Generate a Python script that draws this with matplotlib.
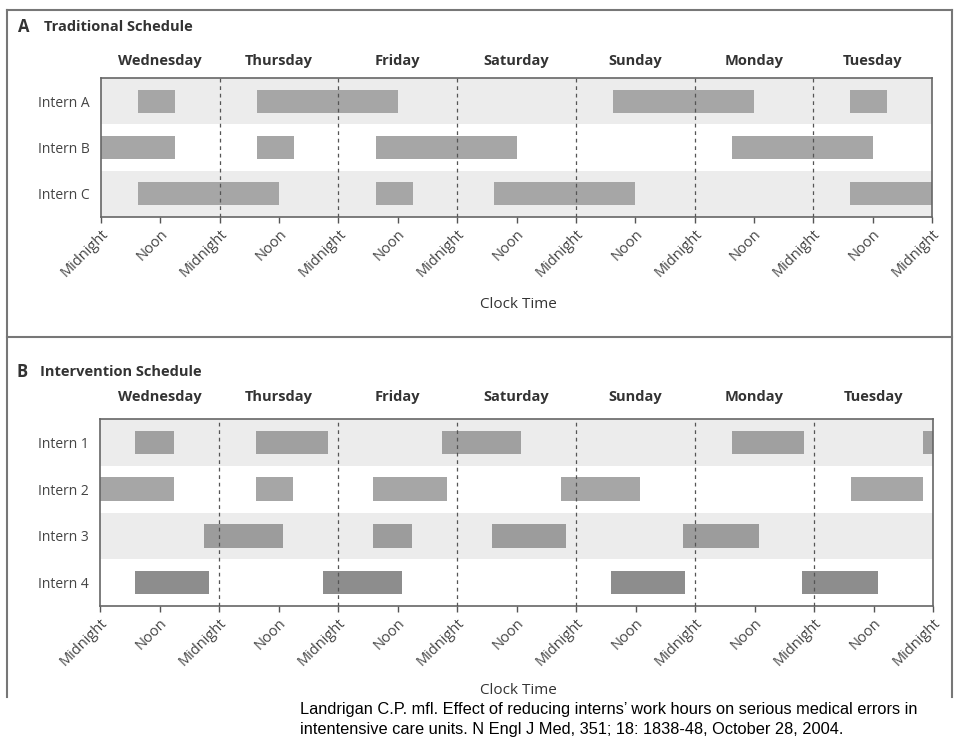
import matplotlib
matplotlib.use("Agg")
import matplotlib.pyplot as plt
from matplotlib.lines import Line2D

plt.rcParams['font.family'] = ['Open Sans', 'DejaVu Sans']

W, H = 959, 740

days = ["Wednesday", "Thursday", "Friday", "Saturday", "Sunday", "Monday", "Tuesday"]
tick_hours = list(range(0, 169, 12))
tick_labels = ["Midnight" if h % 24 == 0 else "Noon" for h in tick_hours]

# shifts as (start hour, end hour) counted from Wednesday midnight
trad_names = ["Intern A", "Intern B", "Intern C"]
trad_shifts = [
    [(7.5, 15), (31.5, 60), (103.5, 132), (151.5, 159)],
    [(0, 15), (31.5, 39), (55.5, 84), (127.5, 156)],
    [(7.5, 36), (55.5, 63), (79.5, 108), (151.5, 168)],
]

int_names = ["Intern 1", "Intern 2", "Intern 3", "Intern 4"]
int_shifts = [
    [(7, 15), (31.5, 46), (69, 85), (127.5, 142), (166, 168)],
    [(0, 15), (31.5, 39), (55, 70), (93, 109), (151.5, 166)],
    [(21, 37), (55, 63), (79, 94), (117.5, 133)],
    [(7, 22), (45, 61), (103, 118), (141.5, 157)],
]


def px_axes(left, top, right, bottom):
    return fig.add_axes([left / W, 1 - bottom / H, (right - left) / W, (bottom - top) / H])


def draw_panel(ax, names, shifts, colors):
    n = len(names)
    ax.set_xlim(0, 168)
    ax.set_ylim(n - 0.5, -0.5)
    for i in range(n):
        if i % 2 == 0:
            ax.axhspan(i - 0.5, i + 0.5, color="#ececec", zorder=0, lw=0)
        starts = [s for s, e in shifts[i]]
        widths = [e - s for s, e in shifts[i]]
        ax.barh([i] * len(starts), widths, left=starts, height=0.5,
                color=colors[i], zorder=2, lw=0)
    for h in range(24, 168, 24):
        ax.axvline(h, color="#555555", lw=0.9, ls=(0, (3, 3)), zorder=3)
    ax.set_yticks(range(n))
    ax.set_yticklabels(names, fontsize=10, color="#444444")
    ax.tick_params(axis="y", length=0, pad=8)
    ax.set_xticks(tick_hours)
    ax.set_xticklabels(tick_labels, rotation=45, ha="right", va="top",
                       rotation_mode="anchor", fontsize=10.5, color="#444444")
    ax.tick_params(axis="x", length=4, width=1, color="#555555", pad=3)
    for sp in ax.spines.values():
        sp.set_color("#666666")
        sp.set_linewidth(1.2)
    for d, name in enumerate(days):
        ax.text(d * 24 + 12, 1.12, name, transform=ax.get_xaxis_transform(),
                ha="center", va="center", fontsize=10.5, fontweight="bold", color="#333333")


fig = plt.figure(figsize=(W / 100, H / 100), dpi=100)

axA = px_axes(101, 78, 932, 217)
draw_panel(axA, trad_names, trad_shifts, ["#a6a6a6"] * 3)

axB = px_axes(100, 419, 933, 606)
draw_panel(axB, int_names, int_shifts, ["#a0a0a0", "#a6a6a6", "#9c9c9c", "#8d8d8d"])

# panel titles and axis titles
fig.text(18 / W, 1 - 27 / H, "A", fontsize=12, fontweight="bold", color="#333333", va="center")
fig.text(44 / W, 1 - 27 / H, "Traditional Schedule", fontsize=10.5, fontweight="bold",
         color="#333333", va="center")
fig.text(17 / W, 1 - 372 / H, "B", fontsize=12, fontweight="bold", color="#333333", va="center")
fig.text(40 / W, 1 - 372 / H, "Intervention Schedule", fontsize=10.5, fontweight="bold",
         color="#333333", va="center")
fig.text(518 / W, 1 - 305 / H, "Clock Time", fontsize=11, color="#333333", ha="center", va="center")
fig.text(518 / W, 1 - 690 / H, "Clock Time", fontsize=11, color="#333333", ha="center", va="center")

# scanned frame
frame = [((7, 10), (952, 10)), ((7, 10), (7, 697)), ((952, 10), (952, 697)),
         ((7, 337), (952, 337))]
for (x0, y0), (x1, y1) in frame:
    fig.add_artist(Line2D([x0 / W, x1 / W], [1 - y0 / H, 1 - y1 / H],
                          transform=fig.transFigure, color="#777777", lw=1.5))

caption = ("Landrigan C.P. mfl. Effect of reducing interns\u2019 work hours on serious medical errors in\n"
           "intentensive care units. N Engl J Med, 351; 18: 1838-48, October 28, 2004.")
fig.text(300 / W, 1 - 702 / H, caption, fontsize=11.8, family="Liberation Sans",
         color="black", va="top", linespacing=1.4)

fig.savefig("out.png", dpi=100)
